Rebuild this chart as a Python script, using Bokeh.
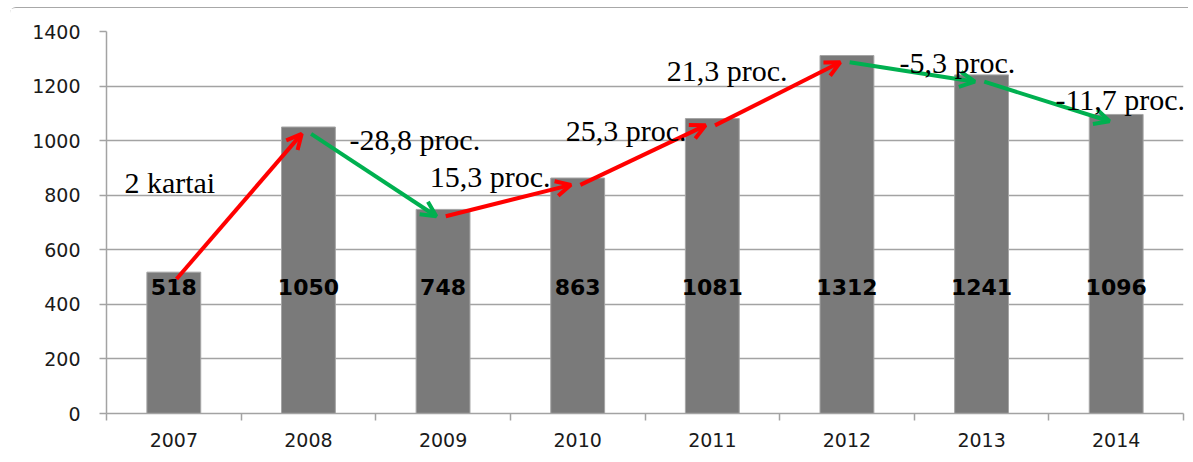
from bokeh.plotting import figure
from bokeh.models import Range1d, FixedTicker, Arrow, OpenHead, ColumnDataSource, Label
from bokeh.core.properties import value
from bokeh.embed import file_html
from bokeh.resources import INLINE

# ---- data ----
years = ["2007", "2008", "2009", "2010", "2011", "2012", "2013", "2014"]
counts = [518, 1050, 748, 863, 1081, 1312, 1241, 1096]
change_texts = ["2 kartai", "-28,8 proc.", "15,3 proc.", "25,3 proc.",
                "21,3 proc.", "-5,3 proc.", "-11,7 proc."]
y_ticks = [0, 200, 400, 600, 800, 1000, 1200, 1400]

# ---- annotation placement (data coordinates: x = category index units) ----
change_pos = [(0.47, 847), (2.29, 1004), (2.85, 869), (3.86, 1037),
              (4.61, 1257), (6.32, 1286), (7.53, 1151)]
label_level = 465
arrow_drop = 25

GRID = "#a3a3a3"
BAR = "#7a7a7a"
UP = "#ff0000"
DOWN = "#00b050"

n = len(years)
centers = [i + 0.5 for i in range(n)]

p = figure(width=1178, height=445, output_backend="svg", toolbar_location=None,
           x_range=Range1d(0, n), y_range=Range1d(0, 1400),
           min_border_left=96, min_border_right=5, min_border_top=23,
           min_border_bottom=40)
p.styles = {"margin-top": "7px", "margin-left": "10px",
            "border-top": "1px solid #a8a8a8", "border-top-left-radius": "6px"}
p.outline_line_color = None
p.background_fill_color = "white"
p.border_fill_color = "white"

# axes
p.xaxis.ticker = FixedTicker(ticks=centers, minor_ticks=list(range(n + 1)))
p.xaxis.major_label_overrides = {c: y for c, y in zip(centers, years)}
p.xaxis.major_tick_line_color = None
p.xaxis.minor_tick_line_color = GRID
p.xaxis.minor_tick_line_width = 1.5
p.xaxis.minor_tick_out = 7
p.xaxis.minor_tick_in = 0
p.xaxis.axis_line_color = GRID
p.xaxis.axis_line_width = 1.5
p.xaxis.major_label_standoff = 12
p.xaxis.major_label_text_font = "DejaVu Sans"
p.xaxis.major_label_text_font_size = "19px"
p.xaxis.major_label_text_color = "#1a1a1a"

p.yaxis.ticker = FixedTicker(ticks=y_ticks)
p.yaxis.minor_tick_line_color = None
p.yaxis.major_tick_line_color = GRID
p.yaxis.major_tick_line_width = 1.5
p.yaxis.major_tick_out = 7
p.yaxis.major_tick_in = 0
p.yaxis.axis_line_color = GRID
p.yaxis.axis_line_width = 1.5
p.yaxis.major_label_standoff = 19
p.yaxis.major_label_text_font = "DejaVu Sans"
p.yaxis.major_label_text_font_size = "19px"
p.yaxis.major_label_text_color = "#1a1a1a"

p.xgrid.visible = False
p.ygrid.ticker = FixedTicker(ticks=y_ticks)
p.ygrid.grid_line_color = GRID
p.ygrid.grid_line_width = 1.5

# bars
src = ColumnDataSource(dict(x=centers, top=counts, lab=[str(v) for v in counts],
                            ly=[label_level] * n))
p.vbar(x="x", top="top", width=0.4, bottom=0, source=src, fill_color=BAR,
       line_color="#a5a5a5", line_width=1)

# value labels
p.text(x="x", y="ly", text="lab", source=src, text_align="center", text_baseline="middle",
       text_font=value("DejaVu Sans"), text_font_style="bold", text_font_size="22px",
       text_color="black")

# change arrows
for i in range(n - 1):
    col = UP if counts[i + 1] > counts[i] else DOWN
    p.add_layout(Arrow(end=OpenHead(size=15, line_color=col, line_width=4),
                       x_start=centers[i] + 0.02, y_start=counts[i] - arrow_drop,
                       x_end=centers[i + 1] - 0.05, y_end=counts[i + 1] - arrow_drop,
                       line_color=col, line_width=4))

# change texts
for t, (x, y) in zip(change_texts, change_pos):
    p.add_layout(Label(x=x, y=y, text=t, text_align="center", text_baseline="alphabetic",
                       text_font="Liberation Serif", text_font_size="30px",
                       text_color="black"))

open("out.html", "w").write(file_html(p, INLINE))
